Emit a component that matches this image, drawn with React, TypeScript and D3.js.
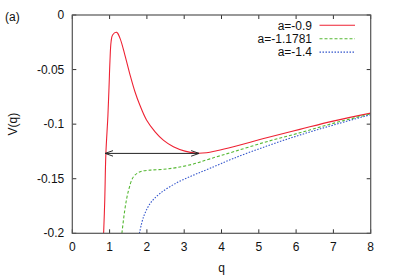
import React from "react";
import * as d3 from "d3";

// values: [q, V(q)]
const seriesA09: [number, number][] = [
  [0.84, -0.2], [0.87, -0.17], [0.9, -0.127], [0.955, -0.092], [0.985, -0.0657],
  [1.01, -0.042], [1.04, -0.0245], [1.08, -0.0183], [1.19, -0.0159], [1.28, -0.0214],
  [1.41, -0.0367], [1.55, -0.055], [1.68, -0.0703], [1.81, -0.0825], [1.99, -0.0962],
  [2.22, -0.107], [2.44, -0.1146], [2.71, -0.1207], [3.02, -0.1247], [3.3, -0.1265],
  [3.6, -0.1262], [3.87, -0.1244], [4.32, -0.1207], [5.21, -0.1125],
  [6.1, -0.1048], [6.99, -0.0972], [8.0, -0.0899],
];
const seriesA11781: [number, number][] = [
  [1.33, -0.2], [1.42, -0.1757], [1.51, -0.1604], [1.64, -0.1482], [1.82, -0.1436],
  [2.09, -0.1421], [2.44, -0.1414], [2.8, -0.1398], [3.25, -0.1365], [3.69, -0.1318],
  [4.32, -0.1253], [5.21, -0.1161], [6.1, -0.1079], [6.99, -0.0993], [8.0, -0.0906],
];
const seriesA14: [number, number][] = [
  [1.8, -0.2], [1.91, -0.1849], [2.09, -0.1726], [2.35, -0.1635], [2.8, -0.1537],
  [3.25, -0.1467], [3.69, -0.1405], [4.32, -0.1314], [5.21, -0.1201], [6.1, -0.11],
  [6.99, -0.1009], [8.0, -0.0913],
];
const legendLabels = ["a=-0.9", "a=-1.1781", "a=-1.4"];
const xTicks = [0, 1, 2, 3, 4, 5, 6, 7, 8];
const yTicks = [0, -0.05, -0.1, -0.15, -0.2];
const arrowLevel = -0.1268;
const arrowSpan = [0.88, 3.4];

const W = 395, H = 276;
const m = { left: 72.3, right: 24.3, top: 15, bottom: 42.7 };
const font = "'Liberation Sans', Arial, sans-serif";

const App: React.FC = () => {
  const x = d3.scaleLinear().domain([0, 8]).range([m.left, W - m.right]);
  const y = d3.scaleLinear().domain([-0.2, 0]).range([H - m.bottom, m.top]);
  const line = d3
    .line<[number, number]>()
    .x((d) => x(d[0]))
    .y((d) => y(d[1]))
    .curve(d3.curveCatmullRom.alpha(0.5));

  const series = [
    { data: seriesA09, color: "#ee2233", dash: "none", w: 1.1 },
    { data: seriesA11781, color: "#55b833", dash: "3,2", w: 1.1 },
    { data: seriesA14, color: "#3355cc", dash: "1.5,1.5", w: 1.1 },
  ];

  const x0 = x(0), x1 = x(8), y0 = y(-0.2), y1 = y(0);
  const tick = 4;

  return (
    <svg width={W} height={H} style={{ position: "absolute", left: 0, top: 0, background: "#fff" }}>
      <defs>
        <clipPath id="plot">
          <rect x={x0} y={y1} width={x1 - x0} height={y0 - y1} />
        </clipPath>
        <marker id="ah" viewBox="0 0 10 10" refX="10" refY="5" markerWidth="8" markerHeight="8"
          orient="auto-start-reverse" markerUnits="userSpaceOnUse">
          <path d="M0,1.5 L10,5 L0,8.5" fill="none" stroke="#222" strokeWidth="1.2" />
        </marker>
      </defs>

      <g fontFamily={font} fontSize={12} fill="#111">
        {xTicks.map((t) => (
          <g key={"x" + t}>
            <line x1={x(t)} x2={x(t)} y1={y0} y2={y0 - tick} stroke="#333" />
            <line x1={x(t)} x2={x(t)} y1={y1} y2={y1 + tick} stroke="#333" />
            <text x={x(t)} y={y0 + 18} textAnchor="middle">{t}</text>
          </g>
        ))}
        {yTicks.map((t) => (
          <g key={"y" + t}>
            <line x1={x0} x2={x0 + tick} y1={y(t)} y2={y(t)} stroke="#333" />
            <line x1={x1} x2={x1 - tick} y1={y(t)} y2={y(t)} stroke="#333" />
            <text x={x0 - 8} y={y(t) + 4} textAnchor="end">{t === 0 ? "0" : String(t)}</text>
          </g>
        ))}
        <text x={(x0 + x1) / 2} y={272} textAnchor="middle">q</text>
        <text transform={`translate(17,${(y0 + y1) / 2}) rotate(-90)`} textAnchor="middle">V(q)</text>
        <text x={5} y={21}>(a)</text>
      </g>

      <g clipPath="url(#plot)">
        {series.map((s, i) => (
          <path key={i} d={line(s.data) ?? ""} fill="none" stroke={s.color}
            strokeWidth={s.w} strokeDasharray={s.dash} />
        ))}
      </g>

      <line x1={x(arrowSpan[0])} x2={x(arrowSpan[1])} y1={y(arrowLevel)} y2={y(arrowLevel)}
        stroke="#222" strokeWidth={1} markerStart="url(#ah)" markerEnd="url(#ah)" />

      <g fontFamily={font} fontSize={12} fill="#111">
        {series.map((s, i) => (
          <g key={"l" + i}>
            <text x={312} y={29.5 + i * 13.4} textAnchor="end">{legendLabels[i]}</text>
            <line x1={319.5} x2={355} y1={25.3 + i * 13.4} y2={25.3 + i * 13.4}
              stroke={s.color} strokeWidth={s.w} strokeDasharray={s.dash} />
          </g>
        ))}
      </g>

      <rect x={x0} y={y1} width={x1 - x0} height={y0 - y1} fill="none" stroke="#555" strokeWidth={1.2} />
    </svg>
  );
};

export default App;
